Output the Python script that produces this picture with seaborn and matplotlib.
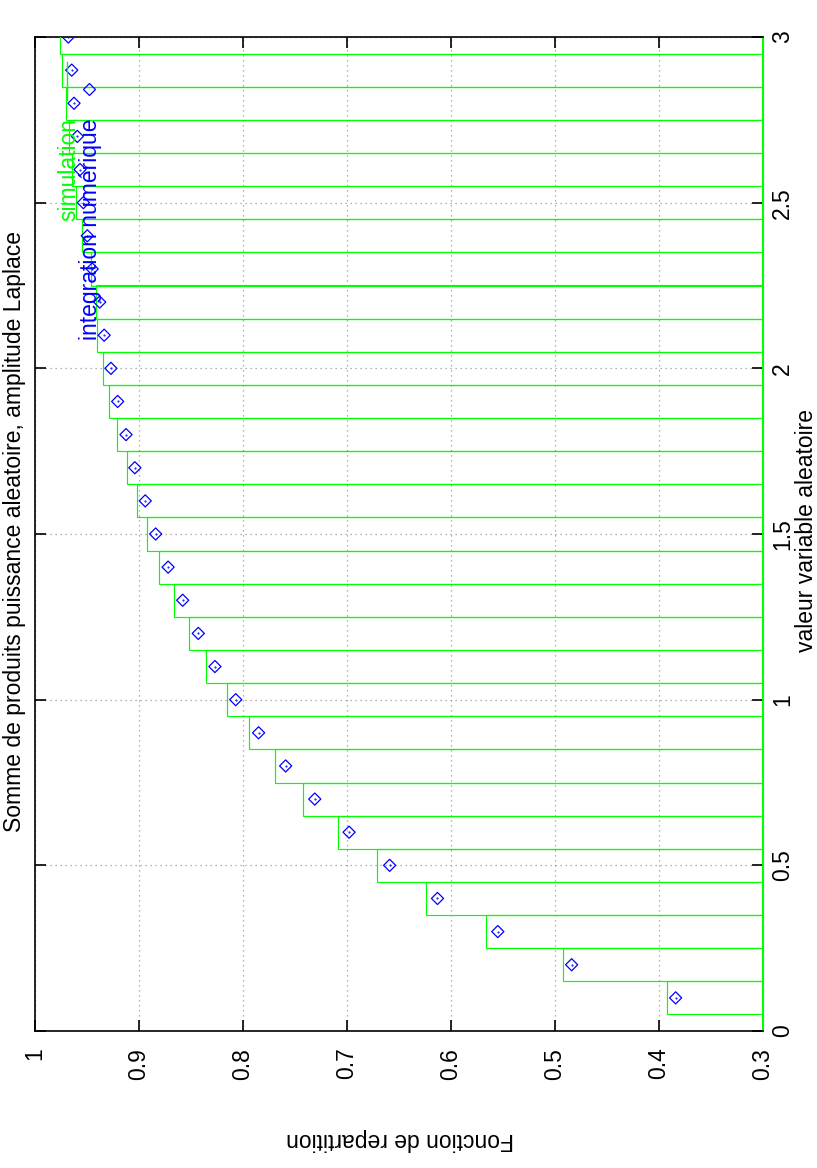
import numpy as np
import pandas as pd
import matplotlib
matplotlib.use("Agg")
import matplotlib.pyplot as plt
import seaborn as sns

# ---- data ----
positions = [0.1, 0.2, 0.3, 0.4, 0.5, 0.6, 0.7, 0.8, 0.9, 1.0,
             1.1, 1.2, 1.3, 1.4, 1.5, 1.6, 1.7, 1.8, 1.9, 2.0,
             2.1, 2.2, 2.3, 2.4, 2.5, 2.6, 2.7, 2.8, 2.9, 3.0]
simulation = [0.392, 0.492, 0.566, 0.624, 0.671, 0.709, 0.742, 0.769, 0.794, 0.815,
              0.836, 0.852, 0.866, 0.881, 0.892, 0.902, 0.912, 0.921, 0.929, 0.935,
              0.9407, 0.9413, 0.946, 0.955, 0.961, 0.964, 0.967, 0.9705, 0.9737, 0.976]
integration = [0.384, 0.484, 0.555, 0.613, 0.659, 0.698, 0.731, 0.759, 0.785, 0.807,
               0.827, 0.843, 0.858, 0.872, 0.884, 0.894, 0.904, 0.9125, 0.9205, 0.927,
               0.9335, 0.9378, 0.945, 0.9497, 0.9535, 0.9567, 0.9593, 0.9625, 0.9647, 0.968]
x_ticks = [0, 0.5, 1, 1.5, 2, 2.5, 3]
x_ticklabels = ["0", "0.5", "1", "1.5", "2", "2.5", "3"]
y_ticks = [1, 0.9, 0.8, 0.7, 0.6, 0.5, 0.4, 0.3]
y_ticklabels = ["1", "0.9", "0.8", "0.7", "0.6", "0.5", "0.4", "0.3"]
title = "Somme de produits puissance aleatoire, amplitude Laplace"
xlabel = "valeur variable aleatoire"
ylabel = "Fonction de repartition"
legend_labels = ["simulation", "integration numérique"]

GREEN = "#00ff00"
BLUE = "#0000ff"
FS = 16.5

sns.set_theme(style="white")
plt.rcParams["font.family"] = ["Liberation Sans", "DejaVu Sans"]
plt.rcParams["text.color"] = "black"
plt.rcParams["xtick.color"] = "black"
plt.rcParams["ytick.color"] = "black"
plt.rcParams["axes.labelcolor"] = "black"

df = pd.DataFrame({"pos": positions, "sim": simulation, "num": integration})

W, H = 817, 1168
fig = plt.figure(figsize=(W / 100, H / 100), dpi=100)
ax = fig.add_axes([35 / W, 1 - 1031 / H, (763 - 35) / W, (1031 - 37) / H])

# bars (horizontal, drawn from 0, clipped at 0.3)
ax.barh(df["pos"], df["sim"], height=0.1, left=0, fill=False,
        edgecolor=GREEN, linewidth=0.85, zorder=3)

# diamonds
sns.scatterplot(data=df, x="num", y="pos", marker="D", s=38,
                facecolors="none", edgecolor=BLUE, linewidth=0.9,
                ax=ax, zorder=4, legend=False)
ax.scatter(df["num"], df["pos"], marker=".", s=1, color=BLUE, zorder=4)

ax.set_xlim(1, 0.3)
ax.set_ylim(0, 3)
ax.set_xticks(y_ticks)
ax.set_xticklabels(y_ticklabels, rotation=90, fontsize=FS)
ax.set_yticks(x_ticks)
ax.set_yticklabels(x_ticklabels, rotation=90, va="center", ha="left", fontsize=FS)
ax.set_xlabel("")
ax.set_ylabel("")

ax.tick_params(axis="both", direction="in", length=8, width=1.2, color="black",
               labelcolor="black",
               top=True, bottom=True, left=True, right=True,
               labelleft=False, labelright=True, labelbottom=True)
ax.tick_params(axis="x", pad=12)
ax.tick_params(axis="y", pad=6)
for lab in ax.get_xticklabels():
    lab.set_va("top")
    lab.set_ha("center")

ax.grid(True, linestyle=(0, (1, 3)), color="#999999", linewidth=0.9, zorder=1)
for side in ["left", "bottom", "top"]:
    ax.spines[side].set_color("black")
    ax.spines[side].set_linewidth(1.2)
ax.spines["right"].set_color(GREEN)
ax.spines["right"].set_linewidth(1.5)

# legend (rotated, like the reference)
ax.text(0.046, 0.9185, legend_labels[0], transform=ax.transAxes, rotation=90,
        ha="center", va="top", color=GREEN, fontsize=FS, zorder=5)
ax.text(0.0765, 0.9185, legend_labels[1], transform=ax.transAxes, rotation=90,
        ha="center", va="top", color=BLUE, fontsize=FS, zorder=5)
ax.plot([0.044, 0.044], [0.937, 0.975], transform=ax.transAxes,
        color=GREEN, linewidth=1.0, zorder=5)
ax.plot([0.0746], [0.948], transform=ax.transAxes, marker="D", markersize=6,
        markerfacecolor="none", markeredgecolor=BLUE, markeredgewidth=0.9,
        linestyle="none", zorder=5)

# titles and labels
fig.text(15 / W, 1 - 531 / H, title, rotation=90, ha="center", va="center", fontsize=FS)
fig.text(806.5 / W, 1 - 530 / H, xlabel, rotation=90, ha="center", va="center", fontsize=FS)
fig.text(400 / W, 1 - 1140 / H, ylabel, rotation=180, ha="center", va="center", fontsize=FS)

fig.savefig("out.png", dpi=100)
